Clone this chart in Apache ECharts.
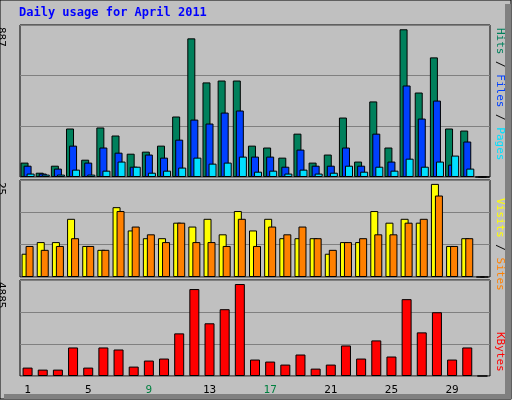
<!DOCTYPE html><html><head><meta charset="utf-8">
<script src="https://cdn.jsdelivr.net/npm/echarts@6/dist/echarts.min.js"></script>
<style>html,body{margin:0;padding:0;background:#fff}#c{width:512px;height:400px}</style></head><body><div id="c"></div>
<script>
const days = Array.from({length:31},(_,i)=>String(i+1));
const weekends = ['2','3','9','10','16','17','23','24','30','31'];
const hits  = [84,25,66,283,101,289,242,136,148,183,353,809,552,563,563,183,172,113,253,84,131,347,90,441,172,862,493,698,283,271,0];
const files = [66,20,49,183,84,172,142,60,131,113,218,335,312,376,388,119,119,60,160,66,66,172,66,253,90,534,341,446,72,207,0];
const pages = [20,14,14,43,14,37,90,60,25,37,55,113,78,84,119,31,37,20,43,20,25,66,31,60,37,107,60,90,125,49,0];
const visits= [6,9,9,15,8,7,18,12,10,10,14,13,15,11,17,12,15,10,10,10,6,9,9,17,14,15,14,24,8,10,0];
const sites = [8,7,8,10,8,7,17,13,11,9,14,9,9,8,15,8,13,11,13,10,7,9,10,11,11,14,15,21,8,10,0];
const kbytes= [427,325,325,1452,427,1452,1349,478,786,888,2169,4424,2682,3399,4680,837,734,581,1093,376,581,1554,888,1811,991,3911,2220,3245,837,1452,0];
const maxHits=887, maxVisits=25, maxKB=4885;

const mono='DejaVu Sans Mono';
const grids=[{left:20,right:22,top:25,height:152},{left:20,right:22,top:180,height:97},{left:20,right:22,top:280,height:96}];
const bs=(c)=>({color:c,borderColor:'#000',borderWidth:1});
function xa(i,show){return {type:'category',data:days,gridIndex:i,axisTick:{show:false},axisLine:{show:false},
 axisLabel:{show:show,margin:9,fontFamily:mono,fontSize:11,formatter:v=>weekends.includes(v)?'{w|'+v+'}':'{d|'+v+'}',rich:{w:{color:'#008040',fontFamily:mono,fontSize:11},d:{color:'#000',fontFamily:mono,fontSize:11}}}};}
function ya(i,m){return {type:'value',gridIndex:i,min:0,max:m,interval:m/3,axisLabel:{show:false},axisLine:{show:false},axisTick:{show:false},splitLine:{lineStyle:{color:'#808080',width:1}}};}
const chart=echarts.init(document.getElementById('c'));
chart.setOption({
 backgroundColor:'#c0c0c0',animation:false,
 grid:grids.map(g=>Object.assign({show:true,borderColor:'#000',borderWidth:1,backgroundColor:'#c0c0c0'},g)),
 xAxis:[xa(0,false),xa(1,false),xa(2,true)],
 yAxis:[ya(0,maxHits),ya(1,maxVisits),ya(2,maxKB)],
 series:[
  {type:'bar',xAxisIndex:0,yAxisIndex:0,data:hits,barWidth:8,barGap:'-62%',itemStyle:bs('#00805c')},
  {type:'bar',xAxisIndex:0,yAxisIndex:0,data:files,barWidth:8,barGap:'-62%',itemStyle:bs('#0040ff')},
  {type:'bar',xAxisIndex:0,yAxisIndex:0,data:pages,barWidth:8,barGap:'-62%',itemStyle:bs('#00e0ff')},
  {type:'bar',xAxisIndex:1,yAxisIndex:1,data:visits,barWidth:8,barGap:'-50%',itemStyle:bs('#ffff00')},
  {type:'bar',xAxisIndex:1,yAxisIndex:1,data:sites,barWidth:8,barGap:'-50%',itemStyle:bs('#ff8000')},
  {type:'bar',xAxisIndex:2,yAxisIndex:2,data:kbytes,barWidth:10,itemStyle:bs('#ff0000')}
 ],
 graphic:[
  {type:'rect',shape:{x:0,y:0,width:511,height:399},style:{fill:'none',stroke:'#000',lineWidth:1},silent:true},
  {type:'rect',shape:{x:505,y:4,width:6,height:395},style:{fill:'#808080'},silent:true},
  {type:'rect',shape:{x:4,y:394,width:507,height:5},style:{fill:'#808080'},silent:true},
  {type:'text',left:19,top:7,style:{text:'Daily usage for April 2011',fill:'#0000ff',font:'bold 12px "DejaVu Sans Mono"'}},
  {type:'text',x:6,y:27,rotation:-Math.PI/2,style:{text:String(maxHits),fill:'#000',font:'11px "DejaVu Sans Mono"'}},
  {type:'text',x:6,y:182,rotation:-Math.PI/2,style:{text:String(maxVisits),fill:'#000',font:'11px "DejaVu Sans Mono"'}},
  {type:'text',x:6,y:282,rotation:-Math.PI/2,style:{text:String(maxKB),fill:'#000',font:'11px "DejaVu Sans Mono"'}},
  {type:'text',x:505,y:28,rotation:-Math.PI/2,style:{text:'{h|Hits}{s| / }{f|Files}{s| / }{p|Pages}',font:'11px "DejaVu Sans Mono"',
    rich:{h:{fill:'#00805c',font:'11px "DejaVu Sans Mono"'},f:{fill:'#0040ff',font:'11px "DejaVu Sans Mono"'},p:{fill:'#00e0ff',font:'11px "DejaVu Sans Mono"'},s:{fill:'#000',font:'11px "DejaVu Sans Mono"'}}}},
  {type:'text',x:505,y:198,rotation:-Math.PI/2,style:{text:'{v|Visits}{s| / }{t|Sites}',font:'11px "DejaVu Sans Mono"',
    rich:{v:{fill:'#ffff00',font:'11px "DejaVu Sans Mono"'},t:{fill:'#ff8000',font:'11px "DejaVu Sans Mono"'},s:{fill:'#000',font:'11px "DejaVu Sans Mono"'}}}},
  {type:'text',x:505,y:332,rotation:-Math.PI/2,style:{text:'KBytes',fill:'#ff0000',font:'11px "DejaVu Sans Mono"'}}
 ]
});
</script></body></html>
